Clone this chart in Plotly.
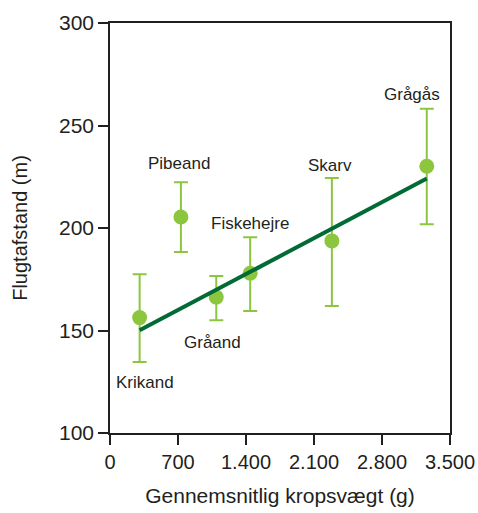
import plotly.graph_objects as go

species = ["Krikand", "Pibeand", "Gråand", "Fiskehejre", "Skarv", "Grågås"]
weight_g = [305, 730, 1094, 1443, 2284, 3261]
distance_m = [156.3, 205.4, 166.3, 177.9, 193.7, 230.1]
err_plus = [21.1, 16.9, 10.3, 17.6, 30.7, 28.1]
err_minus = [21.7, 17.1, 11.3, 18.4, 31.7, 28.3]

trend_x = [305, 3261]
trend_y = [150.1, 224.1]

x_tickvals = [0, 700, 1400, 2100, 2800, 3500]
x_ticktext = ["0", "700", "1.400", "2.100", "2.800", "3.500"]
y_tickvals = [100, 150, 200, 250, 300]

# label anchors (data coords)
label_x = [363, 715, 1056, 1440, 2266, 3113]
label_y = [124.5, 231.5, 144.0, 202.0, 230.5, 265.0]

LIGHT = "#8cc63f"
DARK = "#006b35"
FONT = "Liberation Sans, Arial, sans-serif"
TXT = "#231f20"

fig = go.Figure()

fig.add_trace(go.Scatter(
    x=weight_g, y=distance_m, mode="markers",
    marker=dict(color=LIGHT, size=15),
    error_y=dict(type="data", symmetric=False, array=err_plus, arrayminus=err_minus,
                 color=LIGHT, thickness=2, width=7),
    showlegend=False, hoverinfo="skip",
))

fig.add_trace(go.Scatter(
    x=trend_x, y=trend_y, mode="lines",
    line=dict(color=DARK, width=4),
    showlegend=False, hoverinfo="skip",
))

for name, lx, ly in zip(species, label_x, label_y):
    fig.add_annotation(x=lx, y=ly, text=name, showarrow=False,
                       font=dict(family=FONT, size=17, color=TXT))

fig.update_layout(
    width=478, height=513,
    margin=dict(l=110, r=28, t=23, b=80),
    plot_bgcolor="white", paper_bgcolor="white",
    font=dict(family=FONT, color=TXT),
)

fig.update_xaxes(
    range=[0, 3500], tickvals=x_tickvals, ticktext=x_ticktext,
    showgrid=False, zeroline=False, automargin=False, ticklabeloverflow="allow",
    showline=True, linecolor=TXT, linewidth=1.5, mirror=True,
    ticks="outside", ticklen=10, tickwidth=1.5, tickcolor=TXT,
    tickfont=dict(size=20), title=dict(text="Gennemsnitlig kropsvægt (g)", font=dict(size=21), standoff=17),
)
fig.update_yaxes(
    range=[100, 300], tickvals=y_tickvals,
    showgrid=False, zeroline=False, automargin=False,
    showline=True, linecolor=TXT, linewidth=1.5, mirror=True,
    ticks="outside", ticklen=10, tickwidth=1.5, tickcolor=TXT,
    tickfont=dict(size=21), title=dict(text="Flugtafstand (m)", font=dict(size=20), standoff=26),
)

fig.write_html(
    "out.html",
    config={"displayModeBar": False},
    post_script="document.body.style.margin='0';document.body.style.overflow='hidden';",
)
